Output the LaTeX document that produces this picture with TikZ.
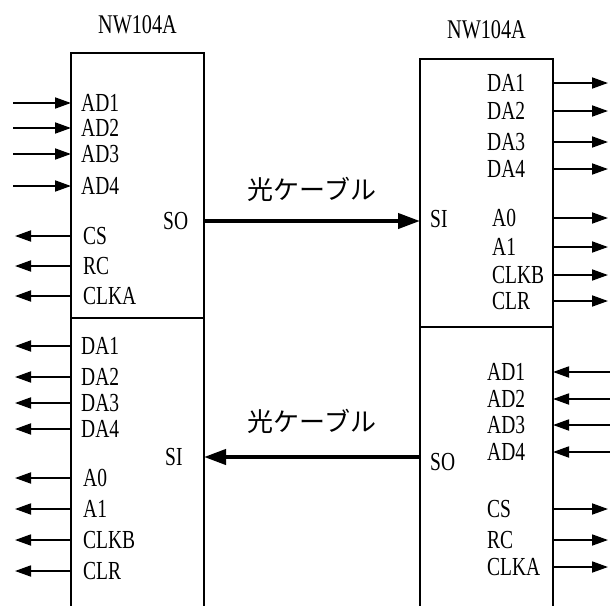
\documentclass[tikz,border=0pt]{standalone}
\usepackage{fontspec}
\setmainfont[FakeStretch=0.75]{Liberation Serif}
\newfontfamily\jpfont{Noto Sans CJK JP}
\usetikzlibrary{arrows.meta,positioning}
\tikzset{
  chip/.style={draw=black, line width=1.8pt, minimum width=133pt, inner sep=0pt, outer sep=0pt},
  pinl/.style={anchor=west, inner sep=0pt, font=\fontsize{26}{26}\selectfont},
  ttl/.style={inner sep=0pt, font=\fontsize{27}{27}\selectfont},
  jpl/.style={inner sep=0pt, font=\jpfont\fontsize{26}{26}\selectfont},
  sig/.style={-{Triangle[length=16pt,width=11pt]}, line width=1.8pt},
  cable/.style={-{Triangle[length=22pt,width=15pt]}, line width=4pt}
}

\begin{document}
\begin{tikzpicture}[x=1pt, y=-1pt]
\useasboundingbox (0,0) rectangle (610,605);
% the two NW104A blocks
\node[chip, minimum height=265pt, anchor=north west] (lu) at (71,53) {};
\node[chip, minimum height=300pt, below=0pt of lu] (ll) {};
\node[chip, minimum height=268pt, anchor=north west] (ru) at (420,59) {};
\node[chip, minimum height=300pt, below=0pt of ru] (rl) {};
\node[ttl, above=19pt of lu] (tl) {NW104A};
\node[ttl, above=20pt of ru] (tr) {NW104A};
% left block, upper half
\foreach \t/\y [count=\i] in {AD1/103,AD2/128,AD3/154,AD4/186}{
  \coordinate (luin\i) at (13,\y);
  \node[pinl] (luint\i) at (81,\y) {\t};
  \draw[sig] (luin\i) -- (luin\i -| lu.west);
}
\foreach \t/\y [count=\i] in {CS/236,RC/266,CLKA/296}{
  \coordinate (luout\i) at (15,\y);
  \node[pinl] (luoutt\i) at (83,\y) {\t};
  \draw[sig] (luout\i -| lu.west) -- (luout\i);
}
% left block, lower half
\foreach \t/\x/\y [count=\i] in {DA1/81/346,DA2/81/377,DA3/81/403,DA4/81/429,A0/83/478,A1/83/509,CLKB/83/540,CLR/83/571}{
  \coordinate (llout\i) at (15,\y);
  \node[pinl] (lloutt\i) at (\x,\y) {\t};
  \draw[sig] (llout\i -| ll.west) -- (llout\i);
}
% right block, upper half
\foreach \t/\x/\y [count=\i] in {DA1/487/83,DA2/487/111,DA3/487/142,DA4/487/169,A0/492/218,A1/492/247,CLKB/492/275,CLR/492/301}{
  \coordinate (ruout\i) at (608,\y);
  \node[pinl] (ruoutt\i) at (\x,\y) {\t};
  \draw[sig] (ruout\i -| ru.east) -- (ruout\i);
}
% right block, lower half
\foreach \t/\y [count=\i] in {AD1/372,AD2/399,AD3/425,AD4/452}{
  \coordinate (rlin\i) at (610,\y);
  \node[pinl] (rlint\i) at (487,\y) {\t};
  \draw[sig] (rlin\i) -- (rlin\i -| rl.east);
}
\foreach \t/\y [count=\i] in {CS/509,RC/540,CLKA/567}{
  \coordinate (rlout\i) at (608,\y);
  \node[pinl] (rloutt\i) at (487,\y) {\t};
  \draw[sig] (rlout\i -| rl.east) -- (rlout\i);
}
% serial ports and cables
\node[pinl] (lso) at (163,221) {SO};
\node[pinl] (rsi) at (430,219) {SI};
\node[pinl] (lsi) at (165,457) {SI};
\node[pinl] (rso) at (430,462) {SO};
\draw[cable] (lso -| lu.east) -- node[jpl, above=17pt] (cab1) {光ケーブル} (lso -| ru.west);
\draw[cable] (lsi -| rl.west) -- node[jpl, above=21pt] (cab2) {光ケーブル} (lsi -| ll.east);
\end{tikzpicture}
\end{document}
